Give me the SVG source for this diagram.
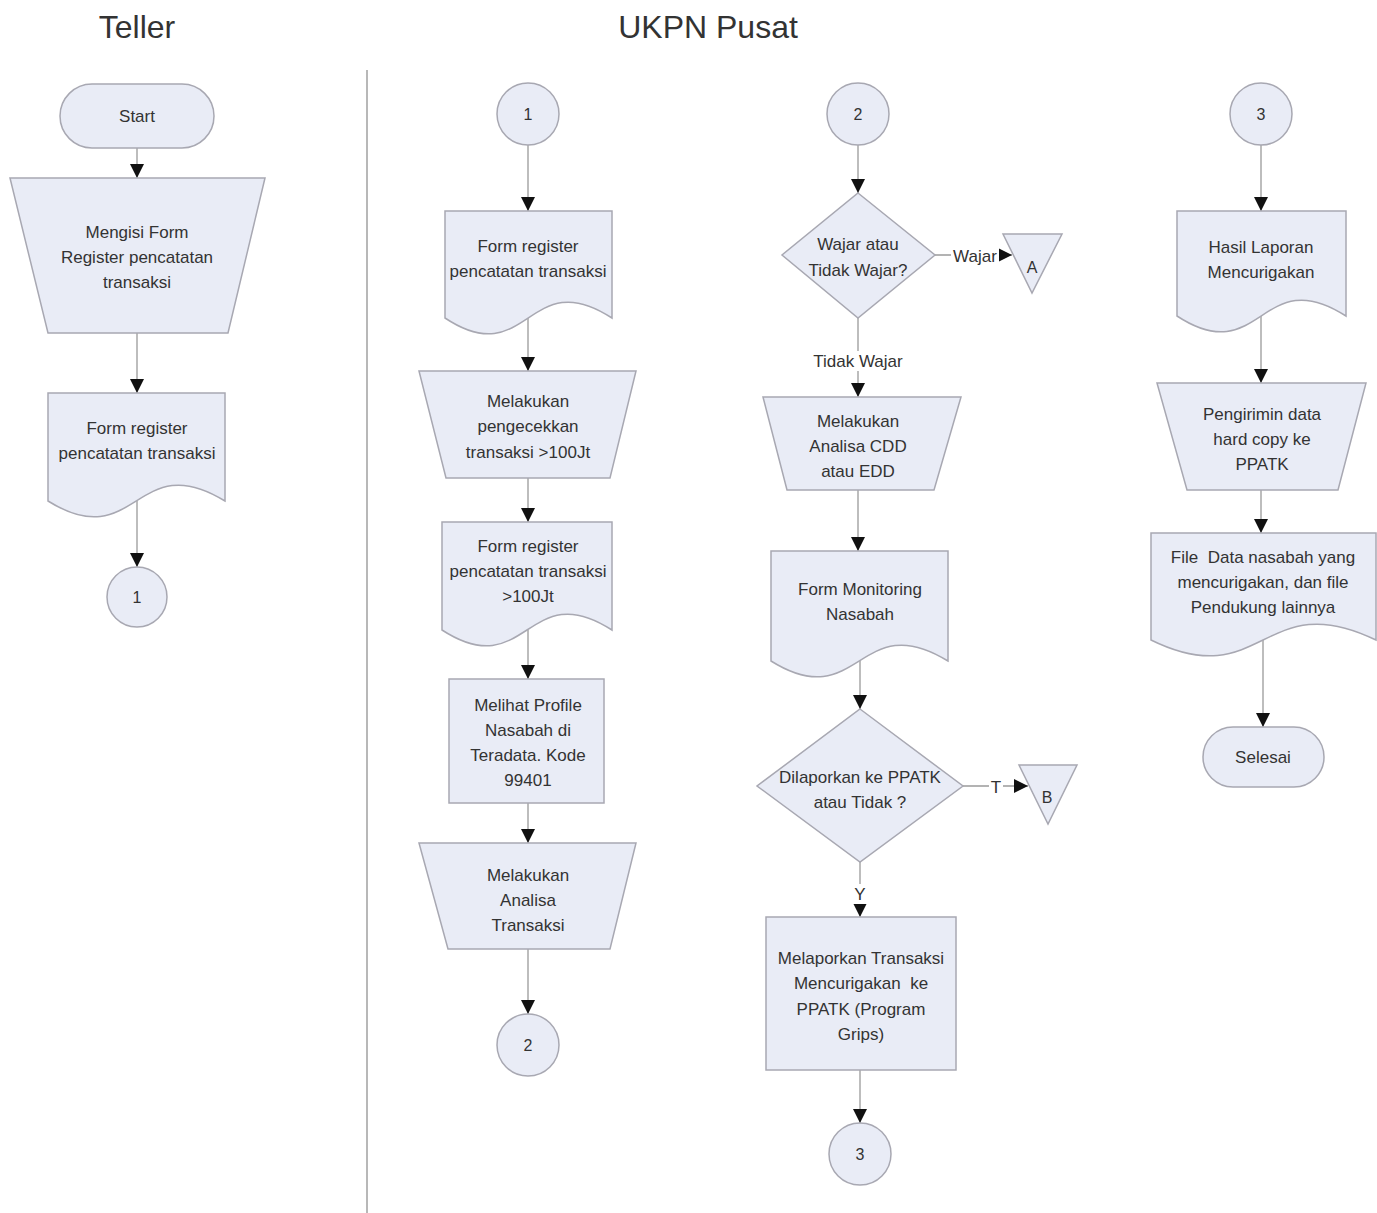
<svg xmlns="http://www.w3.org/2000/svg" width="1377" height="1213" viewBox="0 0 1377 1213">
  <style>
    .shape { fill: #e9ecf6; stroke: #a8a8b2; stroke-width: 1.5; }
    .lbl { font-family: "Liberation Sans", Arial, sans-serif; font-size: 17px; fill: #333; text-anchor: middle; }
    .small { font-size: 16px; }
    .edge { font-size: 17px; }
    .title { font-family: "Liberation Sans", Arial, sans-serif; font-size: 32px; fill: #333; text-anchor: middle; }
    .conn { stroke: #9a9a9a; stroke-width: 1.3; fill: none; }
    .tag { fill: #fff; stroke: none; }
  </style>
  <defs>
    <marker id="arr" viewBox="0 0 14 14" refX="14" refY="7" markerWidth="14" markerHeight="14" orient="auto" markerUnits="userSpaceOnUse">
      <path d="M0,0 L14,7 L0,14 z" fill="#111"/>
    </marker>
  </defs>

  <rect width="1377" height="1213" fill="#fff"/>

  <!-- lane titles and divider -->
  <text class="title" x="137" y="38">Teller</text>
  <text class="title" x="708" y="38">UKPN Pusat</text>
  <line x1="367" y1="70" x2="367" y2="1213" stroke="#a0a0a0" stroke-width="1.5"/>

  <!-- connectors -->
  <g id="connectors">
    <line class="conn" x1="137" y1="148" x2="137" y2="178" marker-end="url(#arr)"/>
    <line class="conn" x1="137" y1="333" x2="137" y2="393" marker-end="url(#arr)"/>
    <line class="conn" x1="137" y1="501" x2="137" y2="567" marker-end="url(#arr)"/>

    <line class="conn" x1="528" y1="145" x2="528" y2="211" marker-end="url(#arr)"/>
    <line class="conn" x1="528" y1="318" x2="528" y2="371" marker-end="url(#arr)"/>
    <line class="conn" x1="528" y1="478" x2="528" y2="522" marker-end="url(#arr)"/>
    <line class="conn" x1="528" y1="630" x2="528" y2="679" marker-end="url(#arr)"/>
    <line class="conn" x1="528" y1="803" x2="528" y2="843" marker-end="url(#arr)"/>
    <line class="conn" x1="528" y1="949" x2="528" y2="1014" marker-end="url(#arr)"/>

    <line class="conn" x1="858" y1="145" x2="858" y2="193" marker-end="url(#arr)"/>
    <line class="conn" x1="935" y1="255" x2="1012" y2="255" marker-end="url(#arr)"/>
    <line class="conn" x1="858" y1="318" x2="858" y2="397" marker-end="url(#arr)"/>
    <line class="conn" x1="858" y1="490" x2="858" y2="551" marker-end="url(#arr)"/>
    <line class="conn" x1="860" y1="661" x2="860" y2="709" marker-end="url(#arr)"/>
    <line class="conn" x1="963" y1="786" x2="1028" y2="786" marker-end="url(#arr)"/>
    <line class="conn" x1="860" y1="862" x2="860" y2="917" marker-end="url(#arr)"/>
    <line class="conn" x1="860" y1="1070" x2="860" y2="1123" marker-end="url(#arr)"/>

    <line class="conn" x1="1261" y1="145" x2="1261" y2="211" marker-end="url(#arr)"/>
    <line class="conn" x1="1261" y1="316" x2="1261" y2="383" marker-end="url(#arr)"/>
    <line class="conn" x1="1261" y1="490" x2="1261" y2="533" marker-end="url(#arr)"/>
    <line class="conn" x1="1263" y1="640" x2="1263" y2="727" marker-end="url(#arr)"/>

    <!-- connector labels -->
    <rect class="tag" x="951" y="246" width="48" height="20"/>
    <text class="lbl edge" x="975" y="262">Wajar</text>
    <rect class="tag" x="810" y="351" width="96" height="20"/>
    <text class="lbl edge" x="858" y="367">Tidak Wajar</text>
    <rect class="tag" x="989" y="777" width="14" height="20"/>
    <text class="lbl edge" x="996" y="793">T</text>
    <rect class="tag" x="852" y="884" width="16" height="20"/>
    <text class="lbl edge" x="860" y="900">Y</text>
  </g>

  <!-- Teller lane -->
  <g id="start">
    <rect class="shape" x="60" y="84" width="154" height="64" rx="32"/>
    <text class="lbl" x="137" y="122">Start</text>
  </g>
  <g id="mengisi-form">
    <polygon class="shape" points="10,178 265,178 228,333 48,333"/>
    <text class="lbl" x="137" y="238">Mengisi Form</text>
    <text class="lbl" x="137" y="263">Register pencatatan</text>
    <text class="lbl" x="137" y="288">transaksi</text>
  </g>
  <g id="form-register-teller">
    <path class="shape" d="M48,393 H225 V501 C136,446 136,556 48,501 Z"/>
    <text class="lbl" x="137" y="434">Form register</text>
    <text class="lbl" x="137" y="459">pencatatan transaksi</text>
  </g>
  <g id="conn-1-out">
    <circle class="shape" cx="137" cy="597" r="30"/>
    <text class="lbl small" x="137" y="603">1</text>
  </g>

  <!-- UKPN column 1 -->
  <g id="conn-1-in">
    <circle class="shape" cx="528" cy="114" r="31"/>
    <text class="lbl small" x="528" y="120">1</text>
  </g>
  <g id="form-register">
    <path class="shape" d="M445,211 H612 V318 C528,263 528,373 445,318 Z"/>
    <text class="lbl" x="528" y="252">Form register</text>
    <text class="lbl" x="528" y="277">pencatatan transaksi</text>
  </g>
  <g id="pengecekkan">
    <polygon class="shape" points="419,371 636,371 610,478 446,478"/>
    <text class="lbl" x="528" y="407">Melakukan</text>
    <text class="lbl" x="528" y="432">pengecekkan</text>
    <text class="lbl" x="528" y="458">transaksi &gt;100Jt</text>
  </g>
  <g id="form-register-100jt">
    <path class="shape" d="M442,522 H612 V630 C527,575 527,685 442,630 Z"/>
    <text class="lbl" x="528" y="552">Form register</text>
    <text class="lbl" x="528" y="577">pencatatan transaksi</text>
    <text class="lbl" x="528" y="602">&gt;100Jt</text>
  </g>
  <g id="profile-nasabah">
    <rect class="shape" x="449" y="679" width="155" height="124"/>
    <text class="lbl" x="528" y="711">Melihat Profile</text>
    <text class="lbl" x="528" y="736">Nasabah di</text>
    <text class="lbl" x="528" y="761">Teradata. Kode</text>
    <text class="lbl" x="528" y="786">99401</text>
  </g>
  <g id="analisa-transaksi">
    <polygon class="shape" points="419,843 636,843 610,949 448,949"/>
    <text class="lbl" x="528" y="881">Melakukan</text>
    <text class="lbl" x="528" y="906">Analisa</text>
    <text class="lbl" x="528" y="931">Transaksi</text>
  </g>
  <g id="conn-2-out">
    <circle class="shape" cx="528" cy="1045" r="31"/>
    <text class="lbl small" x="528" y="1051">2</text>
  </g>

  <!-- UKPN column 2 -->
  <g id="conn-2-in">
    <circle class="shape" cx="858" cy="114" r="31"/>
    <text class="lbl small" x="858" y="120">2</text>
  </g>
  <g id="wajar-decision">
    <polygon class="shape" points="858,193 935,255 858,318 782,255"/>
    <text class="lbl" x="858" y="250">Wajar atau</text>
    <text class="lbl" x="858" y="276">Tidak Wajar?</text>
  </g>
  <g id="offpage-a">
    <polygon class="shape" points="1003,234 1062,234 1032,293"/>
    <text class="lbl small" x="1032" y="273">A</text>
  </g>
  <g id="analisa-cdd">
    <polygon class="shape" points="763,397 961,397 934,490 787,490"/>
    <text class="lbl" x="858" y="427">Melakukan</text>
    <text class="lbl" x="858" y="452">Analisa CDD</text>
    <text class="lbl" x="858" y="477">atau EDD</text>
  </g>
  <g id="form-monitoring">
    <path class="shape" d="M771,551 H948 V661 C859,606 859,716 771,661 Z"/>
    <text class="lbl" x="860" y="595">Form Monitoring</text>
    <text class="lbl" x="860" y="620">Nasabah</text>
  </g>
  <g id="ppatk-decision">
    <polygon class="shape" points="860,709 963,786 860,862 757,786"/>
    <text class="lbl" x="860" y="783">Dilaporkan ke PPATK</text>
    <text class="lbl" x="860" y="808">atau Tidak ?</text>
  </g>
  <g id="offpage-b">
    <polygon class="shape" points="1019,765 1077,765 1048,824"/>
    <text class="lbl small" x="1047" y="803">B</text>
  </g>
  <g id="melaporkan">
    <rect class="shape" x="766" y="917" width="190" height="153"/>
    <text class="lbl" x="861" y="964">Melaporkan Transaksi</text>
    <text class="lbl" x="861" y="989">Mencurigakan&#160; ke</text>
    <text class="lbl" x="861" y="1015">PPATK (Program</text>
    <text class="lbl" x="861" y="1040">Grips)</text>
  </g>
  <g id="conn-3-out">
    <circle class="shape" cx="860" cy="1154" r="31"/>
    <text class="lbl small" x="860" y="1160">3</text>
  </g>

  <!-- UKPN column 3 -->
  <g id="conn-3-in">
    <circle class="shape" cx="1261" cy="114" r="31"/>
    <text class="lbl small" x="1261" y="120">3</text>
  </g>
  <g id="hasil-laporan">
    <path class="shape" d="M1177,211 H1346 V316 C1261,261 1261,371 1177,316 Z"/>
    <text class="lbl" x="1261" y="253">Hasil Laporan</text>
    <text class="lbl" x="1261" y="278">Mencurigakan</text>
  </g>
  <g id="pengiriman">
    <polygon class="shape" points="1157,383 1366,383 1338,490 1187,490"/>
    <text class="lbl" x="1262" y="420">Pengirimin data</text>
    <text class="lbl" x="1262" y="445">hard copy ke</text>
    <text class="lbl" x="1262" y="470">PPATK</text>
  </g>
  <g id="file-data">
    <path class="shape" d="M1151,533 H1376 V640 C1263,585 1263,695 1151,640 Z"/>
    <text class="lbl" x="1263" y="563">File&#160; Data nasabah yang</text>
    <text class="lbl" x="1263" y="588">mencurigakan, dan file</text>
    <text class="lbl" x="1263" y="613">Pendukung lainnya</text>
  </g>
  <g id="selesai">
    <rect class="shape" x="1203" y="727" width="121" height="60" rx="30"/>
    <text class="lbl" x="1263" y="763">Selesai</text>
  </g>
</svg>
